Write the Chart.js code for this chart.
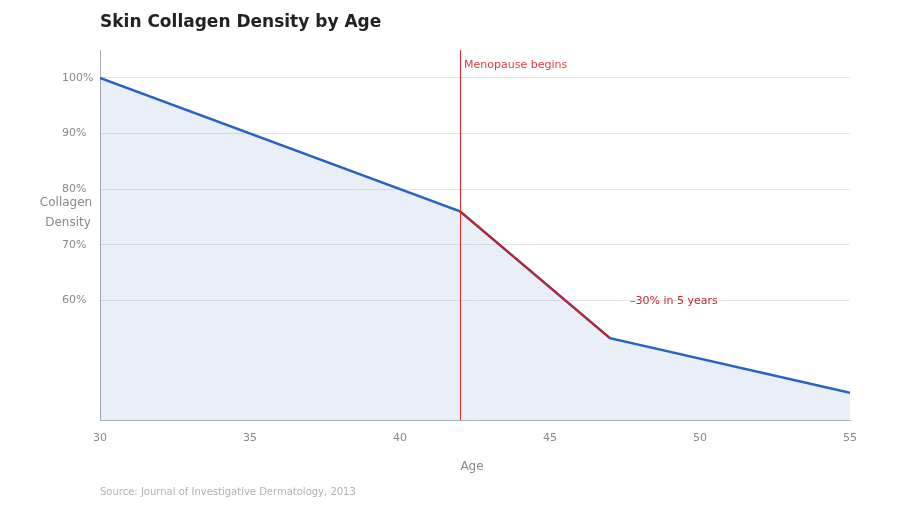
<!DOCTYPE html>
<html>
<head>
<meta charset="utf-8">
<script src="https://cdn.jsdelivr.net/npm/chart.js@4/dist/chart.umd.min.js"></script>
<style>
  body { margin: 0; background: #fff; }
  #wrap { width: 900px; height: 520px; }
</style>
</head>
<body>
<div id="wrap"><canvas id="collagenChart" width="900" height="520"></canvas></div>
<script>
const ages = [30, 42, 47, 55];
const density = [100, 76, 53.2, 43.4];
const dropAges = [42, 47];
const dropDensity = [76, 53.2];
const yTicks = [60, 70, 80, 90, 100];
const menopauseAge = 42;
const titleText = 'Skin Collagen Density by Age';
const sourceText = 'Source: Journal of Investigative Dermatology, 2013';

const font = '"DejaVu Sans"';
Chart.defaults.font.family = font;

const extras = {
  id: 'extras',
  afterDatasetsDraw(chart) {
    const { ctx, chartArea, scales } = chart;
    const x = scales.x, y = scales.y;
    ctx.save();

    // menopause marker
    const mx = Math.round(x.getPixelForValue(menopauseAge)) + 0.5;
    ctx.strokeStyle = '#e02828';
    ctx.lineWidth = 1;
    ctx.beginPath();
    ctx.moveTo(mx, chartArea.top);
    ctx.lineTo(mx, chartArea.bottom);
    ctx.stroke();

    ctx.font = '11px ' + font;
    ctx.textBaseline = 'middle';
    ctx.textAlign = 'left';
    ctx.fillStyle = '#e03a3a';
    ctx.fillText('Menopause begins', mx + 3.5, 65);

    ctx.fillStyle = '#c0282a';
    ctx.fillText('\u201330% in 5 years', x.getPixelForValue(47.67), y.getPixelForValue(60) + 1);
    ctx.restore();
  },
  afterDraw(chart) {
    const { ctx } = chart;
    ctx.save();
    ctx.textBaseline = 'middle';

    ctx.fillStyle = '#222';
    ctx.font = 'bold 17px ' + font;
    ctx.textAlign = 'left';
    ctx.fillText(titleText, 100, 23);

    ctx.fillStyle = '#888';
    ctx.font = '12px ' + font;
    ctx.textAlign = 'center';
    ctx.fillText('Collagen', 66, 203);
    ctx.fillText('Density', 68, 223);
    ctx.fillText('Age', 472, 467);

    ctx.fillStyle = '#b0b0b0';
    ctx.font = '10px ' + font;
    ctx.textAlign = 'left';
    ctx.fillText(sourceText, 100, 492);
    ctx.restore();
  }
};

new Chart(document.getElementById('collagenChart'), {
  type: 'line',
  data: {
    datasets: [
      {
        label: 'Drop',
        data: dropAges.map((a, i) => ({ x: a, y: dropDensity[i] })),
        borderColor: '#d01c24',
        borderWidth: 2,
        pointRadius: 0,
        fill: false,
        order: 0
      },
      {
        label: 'Collagen density',
        data: ages.map((a, i) => ({ x: a, y: density[i] })),
        borderColor: '#2563c4',
        backgroundColor: 'rgba(40, 100, 180, 0.1)',
        borderWidth: 2.5,
        pointRadius: 0,
        tension: 0,
        fill: 'origin',
        order: 1
      }
    ]
  },
  options: {
    responsive: false,
    animation: false,
    layout: { padding: { left: 62, right: 50, top: 50, bottom: 70 } },
    plugins: {
      legend: { display: false },
      title: { display: false },
      tooltip: { enabled: false }
    },
    scales: {
      x: {
        type: 'linear',
        min: 30,
        max: 55,
        ticks: { stepSize: 5, color: '#888', font: { size: 11 }, padding: 12 },
        grid: { display: false, drawTicks: false },
        border: { color: '#aab0b8', width: 1 },
        afterFit(s) { s.height = 30; }
      },
      y: {
        min: 38.5,
        max: 105,
        afterBuildTicks(s) { s.ticks = yTicks.map(v => ({ value: v })); },
        afterFit(s) { s.width = 38; },
        ticks: {
          color: '#888',
          font: { size: 11 },
          crossAlign: 'far',
          padding: 0,
          callback: v => v + '%'
        },
        grid: { color: 'rgba(0,0,0,0.1)', drawTicks: false },
        border: { color: '#aab0b8', width: 1 }
      }
    }
  },
  plugins: [extras]
});
</script>
</body>
</html>
